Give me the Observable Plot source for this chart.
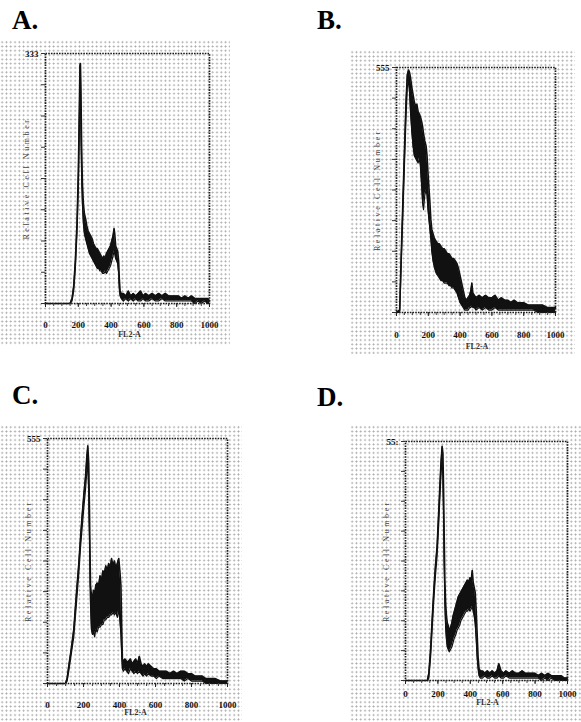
<!DOCTYPE html>
<html>
<head>
<meta charset="utf-8">
<script src="https://cdn.jsdelivr.net/npm/d3@7"></script>
<script src="https://cdn.jsdelivr.net/npm/@observablehq/plot@0.6"></script>
<style>
  html, body { margin: 0; padding: 0; background: #fff; }
  body { width: 581px; height: 722px; position: relative; overflow: hidden; }
  .panel-label { position: absolute; font-family: "Liberation Serif", "Times New Roman", serif; font-weight: bold; font-size: 27px; line-height: 1; color: #000; }
  .plot { position: absolute;
    background-image: radial-gradient(circle, #a8a8a8 0.75px, rgba(255,255,255,0) 1.1px);
    background-size: 4.3px 4.3px; }
  .plot svg { background: transparent !important; }
  text[aria-label="ylab"] { letter-spacing: 2.6px; }
</style>
</head>
<body>
<div class="panel-label" style="left:12px; top:7px;">A.</div>
<div class="panel-label" style="left:317px; top:7px;">B.</div>
<div class="panel-label" style="left:12px; top:382px;">C.</div>
<div class="panel-label" style="left:317px; top:384px;">D.</div>
<div id="pA" class="plot" style="left:0px; top:40px;"></div>
<div id="pB" class="plot" style="left:350px; top:50px;"></div>
<div id="pC" class="plot" style="left:0px; top:425px;"></div>
<div id="pD" class="plot" style="left:350px; top:425px;"></div>
<script>
// ---- shared axis text ----
const xTicks = [0, 200, 400, 600, 800, 1000];
const xLabel = "FL2-A";
const yLabel = "Relative Cell Number";
const topLabels = ["333", "555", "555", "55:"];

// ---- Panel A: channel, lower / upper envelope of the noisy histogram (% of full scale) ----
const A_x  = [0,150,162,172,182,192,200,206,210,213,216,220,225,231,237,244,252,260,268,276,284,292,300,308,316,324,332,340,348,356,364,372,380,388,396,404,412,418,422,428,434,440,446,450,455,462,475,490,505,520,535,550,565,580,595,610,630,650,670,690,710,730,750,770,790,810,830,850,870,890,910,930,950,970,990,1000];
const A_lo = [0,0,1,5,14,28,45,68,86,90,70,52,40,32,28,26,24,22,20,19,18,17,16,15,14,14,13,13,12,12,13,12,13,14,15,17,19,21,20,18,17,16,12,6,3,2,1,2,1,2,1,2,1,1,2,1,1,2,1,1,2,1,1,1,1,1,1,1,1,1,0,1,0,1,0,0];
const A_hi = [0,0,2,7,17,32,52,76,95,96,86,64,48,40,36,34,31,29,28,27,26,24,23,22,22,21,20,19,18,19,18,20,21,22,23,25,27,30,28,23,22,21,17,10,5,4,4,3,5,3,4,3,4,5,3,4,3,4,3,4,3,4,3,3,3,3,2,3,2,3,2,2,2,2,2,1];

// ---- Panel B ----
const B_x  = [0,20,30,40,50,60,68,76,82,88,96,104,112,120,128,136,144,150,158,164,170,178,186,192,198,204,210,216,222,230,240,250,260,270,280,290,300,310,320,330,340,350,360,370,380,390,400,410,420,430,440,450,460,468,474,480,490,500,520,540,560,580,600,620,640,660,680,700,720,740,760,780,800,830,860,890,920,950,980,1000];
const B_lo = [0,0,20,40,60,80,92,95,90,82,74,68,64,63,62,61,63,60,52,45,42,48,50,48,42,38,34,30,25,21,18,16,15,14,13,13,12,12,12,11,11,10,10,9,8,6,4,3,2,1,1,1,2,2,3,2,2,1,2,1,2,1,1,2,1,1,1,1,1,1,1,1,1,1,1,0,0,0,0,0];
const B_hi = [0,1,24,45,66,86,97,99,98,96,92,89,86,84,85,82,81,80,78,76,73,70,68,64,57,51,45,38,34,32,30,29,28,28,27,26,26,25,24,24,23,22,22,21,20,18,15,12,9,6,5,6,7,9,12,8,7,6,7,6,7,6,6,7,5,6,5,5,4,5,4,4,4,3,3,3,3,2,2,2];

// ---- Panel C ----
const C_x  = [0,100,109,120,132,146,160,174,184,193,202,211,218,224,229,233,236,239,244,250,256,262,268,276,284,292,300,308,316,324,332,340,348,356,364,372,380,388,396,402,408,412,416,422,430,440,450,460,470,480,490,500,510,520,530,540,550,560,575,590,605,620,640,660,680,700,720,740,760,780,800,820,840,860,880,900,930,960,1000];
const C_lo = [0,0,1,6,12,19,32,45,56,64,72,79,86,90,78,60,45,32,22,20,21,19,22,21,23,23,24,24,26,26,27,27,28,28,29,28,29,27,30,26,20,12,6,5,6,5,4,6,5,4,5,4,5,4,3,4,3,4,3,3,2,3,2,2,2,2,2,2,1,2,1,1,1,1,0,0,0,0,0];
const C_hi = [0,0,2,8,14,22,36,49,60,69,77,84,92,97,90,72,55,40,36,35,38,36,40,41,40,44,42,46,45,48,46,49,47,51,48,50,47,49,51,46,40,24,10,9,10,9,9,10,8,9,10,8,11,8,7,8,7,8,7,6,6,5,5,5,4,5,4,5,5,4,4,3,3,3,2,2,2,1,1];

// ---- Panel D ----
const D_x  = [0,135,144,155,165,175,185,195,204,212,219,226,231,235,239,243,248,253,258,264,270,278,286,294,302,310,318,326,334,342,350,358,366,374,382,390,398,406,412,418,424,430,436,442,448,454,462,475,490,505,520,535,550,565,576,590,605,620,640,660,680,700,720,740,760,780,800,820,840,860,880,900,920,940,960,980,1000];
const D_lo = [0,0,1,10,22,34,44,52,64,76,86,93,85,68,48,32,22,17,14,13,12,13,14,16,18,19,21,22,23,25,26,27,28,29,29,30,29,30,31,29,27,24,18,10,5,2,1,1,2,1,1,2,1,1,2,1,1,2,1,1,1,1,1,1,1,1,1,1,0,1,0,1,0,0,0,0,0];
const D_hi = [0,0,3,13,26,38,48,56,69,81,91,98,95,80,60,42,32,27,24,23,21,22,24,27,29,31,33,35,36,37,38,39,40,41,42,41,43,42,46,41,39,37,30,20,10,5,4,4,3,4,3,4,3,4,7,4,3,4,3,4,3,3,4,3,3,3,3,2,3,2,3,2,2,2,2,1,1];

function rows(xs, lo, hi) { return xs.map((x, i) => ({x, lo: lo[i], hi: hi[i]})); }

function panel(id, xs, lo, hi, cfg) {
  const data = rows(xs, lo, hi);
  const chart = Plot.plot({
    width: cfg.width, height: cfg.height,
    marginLeft: cfg.ml, marginRight: cfg.mr, marginTop: cfg.mt, marginBottom: cfg.mb,
    x: {domain: [0, 1000]},
    y: {domain: [0, 100]},
    style: {fontFamily: "Liberation Serif, serif", fontSize: "9px", fontWeight: "bold", color: "#111", background: "transparent"},
    marks: [
      Plot.areaY(data, {x: "x", y1: "lo", y2: "hi", fill: "#111"}),
      Plot.line(data, {x: "x", y: "hi", stroke: "#111", strokeWidth: 1.6}),
      Plot.line(data, {x: "x", y: "lo", stroke: "#111", strokeWidth: 1.2}),
      Plot.frame({stroke: "#1a1a1a", strokeWidth: 1.7, strokeDasharray: "1.6,1.1"}),
      Plot.axisY({ticks: d3.range(0, 101, 12.5), tickSize: 4, tickFormat: () => "", label: null, stroke: "#333"}),
      Plot.axisX({ticks: d3.range(0, 1001, 50), tickSize: 3, tickFormat: () => "", label: null, stroke: "#444"}),
      Plot.axisX({ticks: xTicks, tickSize: 4, tickPadding: cfg.tp, tickFormat: d => String(d), label: null, stroke: "#222", fill: "#111"}),
      Plot.text([xLabel], {frameAnchor: "bottom", dx: cfg.xdx, dy: cfg.xl, fontSize: 8, fill: "#333"}),
      Plot.text([yLabel], {text: d => d, frameAnchor: "left", textAnchor: "middle", dx: -19, rotate: -90, fontSize: 8, fill: "#444", fontWeight: "normal", ariaLabel: () => "ylab"}),
      Plot.text([cfg.top], {frameAnchor: "top-left", dx: -7, dy: -3, textAnchor: "end", fontSize: 9})
    ]
  });
  document.getElementById(id).appendChild(chart);
}

panel("pA", A_x, A_lo, A_hi, {width: 230, height: 305, ml: 45, mr: 21, mt: 13, mb: 42, tp: 14, xl: 33, xdx: 2, top: topLabels[0]});
panel("pB", B_x, B_lo, B_hi, {width: 225, height: 304, ml: 46, mr: 20, mt: 17, mb: 42, tp: 15, xl: 36, xdx: 1, top: topLabels[1]});
panel("pC", C_x, C_lo, C_hi, {width: 242, height: 297, ml: 47, mr: 15, mt: 13, mb: 39, tp: 14, xl: 31, xdx: -2, top: topLabels[2]});
panel("pD", D_x, D_lo, D_hi, {width: 231, height: 297, ml: 55, mr: 14, mt: 16, mb: 42, tp: 6, xl: 24, xdx: 1, top: topLabels[3]});
</script>
</body>
</html>
